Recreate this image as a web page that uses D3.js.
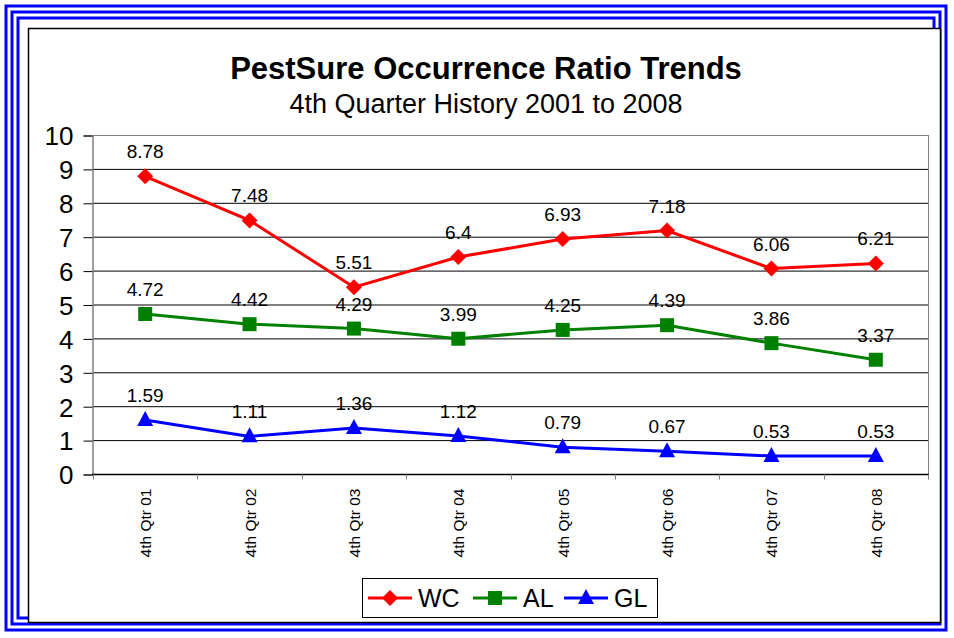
<!DOCTYPE html>
<html lang="en">
<head>
  <meta charset="utf-8">
  <title>PestSure Occurrence Ratio Trends</title>
  <script type="text/javascript" src="https://d3js.org/d3.v7.min.js"></script>
  <style type="text/css">
    body { margin: 0; background: #fff; }
    text { font-family: "Liberation Sans", Arial, sans-serif; fill: #000; }
  </style>
</head>
<body>
  <script type="text/javascript">
    var categories = ["4th Qtr 01", "4th Qtr 02", "4th Qtr 03", "4th Qtr 04",
                      "4th Qtr 05", "4th Qtr 06", "4th Qtr 07", "4th Qtr 08"];
    var wcValues = [8.78, 7.48, 5.51, 6.4, 6.93, 7.18, 6.06, 6.21];
    var alValues = [4.72, 4.42, 4.29, 3.99, 4.25, 4.39, 3.86, 3.37];
    var glValues = [1.59, 1.11, 1.36, 1.12, 0.79, 0.67, 0.53, 0.53];
    var yTicks = [0, 1, 2, 3, 4, 5, 6, 7, 8, 9, 10];

    var series = [
      { name: "WC", values: wcValues, color: "#ff0000", marker: "diamond" },
      { name: "AL", values: alValues, color: "#008000", marker: "square" },
      { name: "GL", values: glValues, color: "#0000ff", marker: "triangle" }
    ];

    var width = 954, height = 638;
    var svg = d3.select("body").append("svg")
      .attr("width", width)
      .attr("height", height);

    // triple blue frame + black chart border
    [5, 11, 17].forEach(function(inset) {
      svg.append("rect")
        .attr("x", inset + 1).attr("y", inset + 1)
        .attr("width", width - 2 * inset - 4).attr("height", height - 2 * inset - 4)
        .attr("fill", "none")
        .attr("stroke", "#0000ff")
        .attr("stroke-width", 3);
    });
    svg.append("rect")
      .attr("x", 28.5).attr("y", 28.5)
      .attr("width", 912).attr("height", 594)
      .attr("fill", "#fff")
      .attr("stroke", "#000")
      .attr("stroke-width", 1.5);

    var x = d3.scaleBand().domain(categories).range([93, 928]);
    var y = d3.scaleLinear().domain([0, 10]).range([474, 135]);

    // title
    svg.append("text")
      .attr("x", 486).attr("y", 79)
      .attr("text-anchor", "middle")
      .attr("font-size", 31).attr("font-weight", "bold")
      .text("PestSure Occurrence Ratio Trends");
    svg.append("text")
      .attr("x", 486).attr("y", 113)
      .attr("text-anchor", "middle")
      .attr("font-size", 27)
      .text("4th Quarter History 2001 to 2008");

    // gridlines
    svg.append("g")
      .selectAll("line")
      .data(yTicks.filter(function(d) { return d > 0; }))
      .enter().append("line")
      .attr("x1", 93).attr("x2", 928)
      .attr("y1", function(d) { return y(d) + 0.5; })
      .attr("y2", function(d) { return y(d) + 0.5; })
      .attr("stroke", function(d) { return d === 10 ? "#808080" : "#000"; })
      .attr("stroke-width", 1);

    // right plot border
    svg.append("line")
      .attr("x1", 928.5).attr("x2", 928.5)
      .attr("y1", y(10)).attr("y2", y(0))
      .attr("stroke", "#808080");

    // y axis
    var yAxis = svg.append("g")
      .attr("transform", "translate(92.5,0.5)")
      .call(d3.axisLeft(y).tickValues(yTicks).tickSize(9).tickPadding(10));
    yAxis.select(".domain").attr("stroke", "#808080").attr("stroke-width", 1.5);
    yAxis.selectAll(".tick line").attr("stroke", "#000");
    yAxis.selectAll("text")
      .attr("font-size", 26)
      .attr("dy", "0.36em")
      .attr("font-family", "Liberation Sans, Arial, sans-serif")
      .attr("fill", "#000");

    // x axis
    var xAxis = svg.append("g")
      .attr("transform", "translate(0," + (y(0) + 0.5) + ")");
    xAxis.append("line")
      .attr("x1", 92).attr("x2", 929)
      .attr("stroke", "#000").attr("stroke-width", 1.5);
    xAxis.selectAll(".xtick")
      .data(categories.concat(["end"]))
      .enter().append("line")
      .attr("x1", function(d, i) { return Math.round(93 + i * x.step()) + 0.5; })
      .attr("x2", function(d, i) { return Math.round(93 + i * x.step()) + 0.5; })
      .attr("y1", 0).attr("y2", 5)
      .attr("stroke", "#808080");
    xAxis.selectAll(".xlabel")
      .data(categories)
      .enter().append("text")
      .attr("transform", function(d) {
        return "translate(" + (x(d) + x.bandwidth() / 2 + 6) + ",14) rotate(-90)";
      })
      .attr("text-anchor", "end")
      .attr("font-size", 15.5)
      .text(function(d) { return d; });

    var line = d3.line()
      .x(function(d, i) { return x(categories[i]) + x.bandwidth() / 2; })
      .y(function(d) { return y(d); });

    function drawMarker(g, type, color) {
      if (type === "diamond") {
        g.append("path").attr("d", "M0,-8L8,0L0,8L-8,0Z").attr("fill", color);
      } else if (type === "square") {
        g.append("rect").attr("x", -7).attr("y", -7).attr("width", 14).attr("height", 14).attr("fill", color);
      } else {
        g.append("path").attr("d", "M0,-9L8,6L-8,6Z").attr("fill", color);
      }
    }

    series.forEach(function(s) {
      svg.append("path")
        .datum(s.values)
        .attr("d", line)
        .attr("fill", "none")
        .attr("stroke", s.color)
        .attr("stroke-width", 3);

      s.values.forEach(function(v, i) {
        var cx = x(categories[i]) + x.bandwidth() / 2;
        var g = svg.append("g").attr("transform", "translate(" + cx + "," + y(v) + ")");
        drawMarker(g, s.marker, s.color);
        svg.append("text")
          .attr("x", cx).attr("y", y(v) - 18)
          .attr("text-anchor", "middle")
          .attr("font-size", 19)
          .text(v);
      });
    });

    // legend
    var legend = svg.append("g");
    legend.append("rect")
      .attr("x", 362.5).attr("y", 578.5)
      .attr("width", 295).attr("height", 39)
      .attr("fill", "#fff").attr("stroke", "#000").attr("stroke-width", 1);
    var legendPos = [368, 473, 564];
    series.forEach(function(s, i) {
      var lx = legendPos[i];
      legend.append("line")
        .attr("x1", lx).attr("x2", lx + 44)
        .attr("y1", 598).attr("y2", 598)
        .attr("stroke", s.color).attr("stroke-width", 3);
      var g = legend.append("g").attr("transform", "translate(" + (lx + 22) + ",598)");
      drawMarker(g, s.marker, s.color);
      legend.append("text")
        .attr("x", lx + 50).attr("y", 607)
        .attr("font-size", 25)
        .text(s.name);
    });
  </script>
</body>
</html>
